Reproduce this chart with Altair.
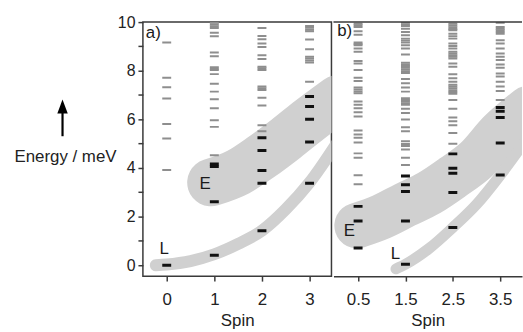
import altair as alt
import pandas as pd

# ---------------- energy levels, panel a (integer spin) ----------------
a0_gray = [9.16, 7.71, 7.32, 6.86, 5.81, 5.21, 3.92]
a0_black = [0.0]
a1_gray = [9.97, 9.90, 9.83, 9.76, 9.56, 9.42, 8.75, 8.60, 8.14, 8.08, 8.03,
           7.86, 7.46, 7.14, 6.83, 6.46, 5.96, 5.69, 4.52]
a1_black = [4.16, 4.06, 2.61, 0.41]
a2_gray = [9.76, 9.43, 9.29, 9.12, 8.98, 8.64, 8.48, 8.16, 8.10, 8.03,
           7.35, 7.28, 7.21, 6.89, 6.57, 5.76, 5.51]
a2_black = [5.24, 4.72, 3.90, 3.37, 1.42]
a3_gray = [9.84, 9.77, 9.69, 9.62, 9.28, 8.88, 8.57, 8.50, 8.42, 8.34, 7.55]
a3_black = [6.94, 6.53, 6.00, 5.07, 3.37]

# ---------------- energy levels, panel b (half-integer spin) ----------------
b05_gray = [9.93, 9.87, 9.80, 9.62, 9.48, 9.16, 9.10, 9.05, 8.91, 8.78, 8.40,
            8.30, 8.03, 7.71, 7.58, 7.31, 7.23, 7.15, 7.07, 6.73, 6.60, 6.46,
            6.29, 6.12, 5.54, 5.38, 5.24, 5.05, 4.60, 4.42, 3.70, 3.33]
b05_black = [2.42, 1.82, 0.71]
b15_gray = [9.97, 9.90, 9.84, 9.73, 9.59, 9.46, 9.32, 9.24, 9.16, 9.05, 8.91,
            8.67, 8.33, 8.26, 8.19, 8.12, 8.05, 7.98, 7.91, 7.66, 7.48, 7.31,
            7.14, 6.87, 6.80, 6.73, 6.66, 6.60, 6.44, 6.26, 5.99, 5.67, 5.51,
            5.10, 4.99, 4.90, 4.76, 4.42, 4.12]
b15_black = [3.67, 3.31, 3.03, 1.82, 0.04]
b25_gray = [9.93, 9.86, 9.79, 9.72, 9.66, 9.52, 9.42, 9.32, 9.12, 9.02, 8.91,
            8.78, 8.71, 8.64, 8.57, 8.50, 8.30, 8.16, 7.85, 7.69, 7.55, 7.42,
            7.35, 7.28, 7.20, 7.12, 7.05, 6.80, 6.44, 6.08, 5.92, 5.76, 5.44,
            5.00]
b25_black = [4.58, 3.99, 3.78, 2.99, 1.55]
b35_gray = [9.97, 9.80, 9.73, 9.66, 9.59, 9.52, 9.25, 9.12, 8.91, 8.71, 8.57,
            8.44, 8.26, 8.12, 7.89, 7.76, 7.55, 7.35, 7.17, 6.80]
b35_black = [6.49, 6.33, 6.08, 5.03, 3.71]

# ---------------- band centre lines (E = excited band, L = lowest band) ----------------
a_e_spin = [0.93, 1.5, 2.0, 2.5, 3.0, 3.6]
a_e_energy = [3.40, 3.83, 4.47, 5.20, 5.98, 6.85]
a_l_spin = [-0.23, 0.0, 0.5, 1.0, 1.5, 2.0, 2.5, 3.0, 3.6]
a_l_energy = [0.00, 0.03, 0.17, 0.45, 0.88, 1.42, 2.30, 3.40, 5.10]

b_e_spin = [0.48, 1.0, 1.5, 2.0, 2.5, 3.0, 3.5, 4.1]
b_e_energy = [1.63, 2.00, 2.49, 2.97, 3.62, 4.35, 5.45, 6.45]
b_l_spin = [1.3, 1.5, 2.0, 2.5, 3.0, 3.5, 4.1]
b_l_energy = [-0.15, 0.04, 0.69, 1.55, 2.50, 3.70, 5.30]

# ---------------- in-panel annotations ----------------
a_note_text = ["a)", "E", "L"]
a_note_spin = [-0.44, 0.69, -0.15]
a_note_energy = [9.55, 3.35, 0.65]
b_note_text = ["b)", "E", "L"]
b_note_spin = [0.06, 0.20, 1.19]
b_note_energy = [9.63, 1.39, 0.45]

GRAY = "#8e8e8e"
BLACK = "#111111"
BAND = "#d0d0d0"
FRAME = "#3a3a3a"
FONT = "Liberation Sans"
W, H = 190, 256


def levels_frame(columns):
    rows = []
    for spin, gray, black in columns:
        rows += [{"spin": spin, "energy": e, "kind": "gray"} for e in gray]
        rows += [{"spin": spin, "energy": e, "kind": "black"} for e in black]
    return pd.DataFrame(rows)


def panel(levels, e_spin, e_energy, e_width, l_spin, l_energy, l_width,
          notes, xdomain, xticks, xfmt, yaxis, xdomain_line):
    xaxis = alt.Axis(values=xticks, format=xfmt, title="Spin", grid=False,
                     domain=xdomain_line, domainColor=FRAME, domainWidth=1.5,
                     tickSize=5, tickWidth=1.5, tickColor=FRAME,
                     labelFontSize=17, labelPadding=11, labelColor="#222",
                     titleFontSize=17, titleFontWeight="normal",
                     titleColor="#222", titlePadding=5)
    xs = alt.Scale(domain=xdomain, nice=False, zero=False)
    ys = alt.Scale(domain=[-0.45, 10], nice=False, zero=False)
    X = alt.X("spin:Q", scale=xs, axis=xaxis)
    Y = alt.Y("energy:Q", scale=ys, axis=yaxis)

    e_df = pd.DataFrame({"spin": e_spin, "energy": e_energy})
    l_df = pd.DataFrame({"spin": l_spin, "energy": l_energy})
    n_df = pd.DataFrame({"label": notes[0], "spin": notes[1], "energy": notes[2]})

    e_band = alt.Chart(e_df).mark_line(
        color=BAND, strokeWidth=e_width, strokeCap="round",
        interpolate="monotone", clip=True).encode(x=X, y=Y)
    l_band = alt.Chart(l_df).mark_line(
        color=BAND, strokeWidth=l_width, strokeCap="round",
        interpolate="monotone", clip=True).encode(x=X, y=Y)
    gray = alt.Chart(levels).transform_filter(alt.datum.kind == "gray").mark_tick(
        orient="horizontal", size=9, thickness=2, color=GRAY, opacity=1,
        clip=True).encode(x=X, y=Y)
    black = alt.Chart(levels).transform_filter(alt.datum.kind == "black").mark_tick(
        orient="horizontal", size=9, thickness=3, color=BLACK, opacity=1,
        clip=True).encode(x=X, y=Y)
    text = alt.Chart(n_df).mark_text(
        font=FONT, fontSize=17, color="#1a1a1a", align="left",
        baseline="middle").encode(x=X, y=Y, text="label:N")
    return [e_band, l_band, gray, black, text]


yaxis_a = alt.Axis(values=list(range(0, 11)),
                   labelExpr="datum.value % 2 === 0 ? datum.label : ''",
                   grid=False, domain=False, tickSize=5, tickWidth=1.5,
                   tickColor=FRAME, labelFontSize=16, labelPadding=3,
                   labelColor="#222", title="Energy / meV", titleAngle=0,
                   titleAlign="left", titleBaseline="middle", titleX=-130,
                   titleY=135, titleFontSize=17, titleFontWeight="normal",
                   titleColor="#222")

levels_a = levels_frame([(0, a0_gray, a0_black), (1, a1_gray, a1_black),
                         (2, a2_gray, a2_black), (3, a3_gray, a3_black)])
levels_b = levels_frame([(0.5, b05_gray, b05_black), (1.5, b15_gray, b15_black),
                         (2.5, b25_gray, b25_black), (3.5, b35_gray, b35_black)])

layers_a = panel(levels_a, a_e_spin, a_e_energy, 48, a_l_spin, a_l_energy, 12,
                 (a_note_text, a_note_spin, a_note_energy), [-0.5, 3.46],
                 [0, 1, 2, 3], "d", yaxis_a, False)
layers_b = panel(levels_b, b_e_spin, b_e_energy, 46, b_l_spin, b_l_energy, 11,
                 (b_note_text, b_note_spin, b_note_energy), [-0.02, 3.96],
                 [0.5, 1.5, 2.5, 3.5], ".1f", None, True)

# upward arrow above the energy label
one = alt.Data(values=[{}])
arrow_shaft = alt.Chart(one).mark_rule(color="#000", strokeWidth=2.2).encode(
    x=alt.value(-81), y=alt.value(90), y2=alt.value(115))
arrow_head = alt.Chart(one).mark_point(
    shape="M0,-1L0.75,1L-0.75,1Z", filled=True, size=196, color="#000",
    opacity=1).encode(x=alt.value(-81), y=alt.value(85))

# top edge of the right-hand panel (it has no right edge)
top_edge_b = alt.Chart(one).mark_rule(color=FRAME, strokeWidth=1.5).encode(
    x=alt.value(0), x2=alt.value(W), y=alt.value(0))

panel_a = alt.layer(*layers_a, arrow_shaft, arrow_head).properties(
    width=W, height=H,
    view=alt.ViewBackground(stroke=FRAME, strokeWidth=1.5))
panel_b = alt.layer(*layers_b, top_edge_b).properties(
    width=W, height=H, view=alt.ViewBackground(stroke=None))

chart = alt.hconcat(panel_a, panel_b, spacing=0).properties(
    padding={"left": 13, "top": 12, "right": 0, "bottom": 0},
    background="white",
).configure_axis(labelFont=FONT, titleFont=FONT).configure_text(font=FONT)

chart.save("out.html", embed_options={"renderer": "svg", "actions": False})
